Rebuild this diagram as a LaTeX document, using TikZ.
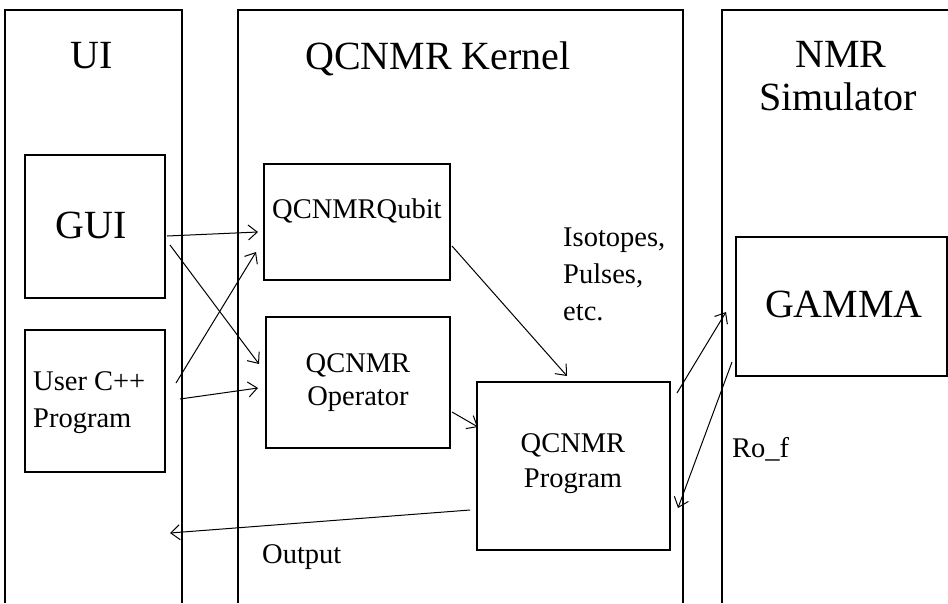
\documentclass[tikz,border=0pt]{standalone}
\usepackage{fontspec}
\setmainfont{Liberation Serif}
\usetikzlibrary{arrows.meta}
\newcommand\bigfnt{\fontsize{40}{44}\selectfont}
\newcommand\smlfnt{\fontsize{28.5}{36}\selectfont}
\begin{document}
\begin{tikzpicture}[x=1pt,y=-1pt,
  colline/.style={line width=1.3pt},
  boxst/.style={draw, line width=1.3pt, inner sep=0pt, outer sep=0pt, anchor=north west},
  bigt/.style={font=\bigfnt, inner sep=0pt, anchor=base},
  smlt/.style={font=\smlfnt, inner sep=0pt, anchor=base},
  arr/.style={-{Straight Barb[length=9pt,width=15pt,line width=1pt]}, line width=1pt}]
\useasboundingbox (0,0) rectangle (948,603);
% columns
\draw[colline] (5,603) -- (5,10) -- (182,10) -- (182,603);
\draw[colline] (238,603) -- (238,10) -- (683,10) -- (683,603);
\draw[colline] (722,603) -- (722,10) -- (948,10);
% boxes
\node[boxst, minimum width=140pt, minimum height=143pt] (gui) at (25,155) {};
\node[boxst, minimum width=140pt, minimum height=142pt] (user) at (25,330) {};
\node[boxst, minimum width=186pt, minimum height=116pt] (qubit) at (264,164) {};
\node[boxst, minimum width=184pt, minimum height=131pt] (oper) at (266,317) {};
\node[boxst, minimum width=193pt, minimum height=168pt] (prog) at (477,382) {};
\node[boxst, minimum width=211pt, minimum height=139pt] (gamma) at (736,237) {};
% titles and labels
\node[bigt] (tui) at (92,68) {UI};
\node[bigt, anchor=base west] (tker) at (305,69) {QCNMR Kernel};
\node[bigt] (tnmr) at (841,67) {NMR};
\node[bigt] (tsim) at (838,110) {Simulator};
\node[bigt] (tgui) at (91,238) {GUI};
\node[bigt] (tgam) at (844,317) {GAMMA};
\node[smlt, anchor=base west] (tqub) at (272,218) {QCNMRQubit};
\node[smlt] (topr1) at (358,372) {QCNMR};
\node[smlt] (topr2) at (358,405) {Operator};
\node[smlt] (tprg1) at (573,452) {QCNMR};
\node[smlt] (tprg2) at (573,487) {Program};
\node[smlt, anchor=base west] (tusr1) at (33,390) {User C++};
\node[smlt, anchor=base west] (tusr2) at (33,427) {Program};
\node[smlt, anchor=base west] (tiso1) at (563,246) {Isotopes,};
\node[smlt, anchor=base west] (tiso2) at (563,283) {Pulses,};
\node[smlt, anchor=base west] (tiso3) at (563,320) {etc.};
\node[smlt, anchor=base west] (tro) at (732,457) {Ro\_f};
\node[smlt, anchor=base west] (tout) at (262,563) {Output};
% connector end points
\coordinate (a1s) at (167,236); \coordinate (a1e) at (258,232);
\coordinate (a2s) at (170,245); \coordinate (a2e) at (259,364);
\coordinate (a3s) at (176,383); \coordinate (a3e) at (256,252);
\coordinate (a4s) at (180,399); \coordinate (a4e) at (258,388);
\coordinate (a5s) at (452,246); \coordinate (a5e) at (567,376);
\coordinate (a6s) at (452,412); \coordinate (a6e) at (478,427);
\coordinate (a7s) at (677,393); \coordinate (a7e) at (726,312);
\coordinate (a8s) at (732,362); \coordinate (a8e) at (678,508);
\coordinate (a9s) at (470,510); \coordinate (a9e) at (170,533);
\draw[arr] (a1s) -- (a1e);
\draw[arr] (a2s) -- (a2e);
\draw[arr] (a3s) -- (a3e);
\draw[arr] (a4s) -- (a4e);
\draw[arr] (a5s) -- (a5e);
\draw[arr] (a6s) -- (a6e);
\draw[arr] (a7s) -- (a7e);
\draw[arr] (a8s) -- (a8e);
\draw[arr] (a9s) -- (a9e);
\end{tikzpicture}
\end{document}
